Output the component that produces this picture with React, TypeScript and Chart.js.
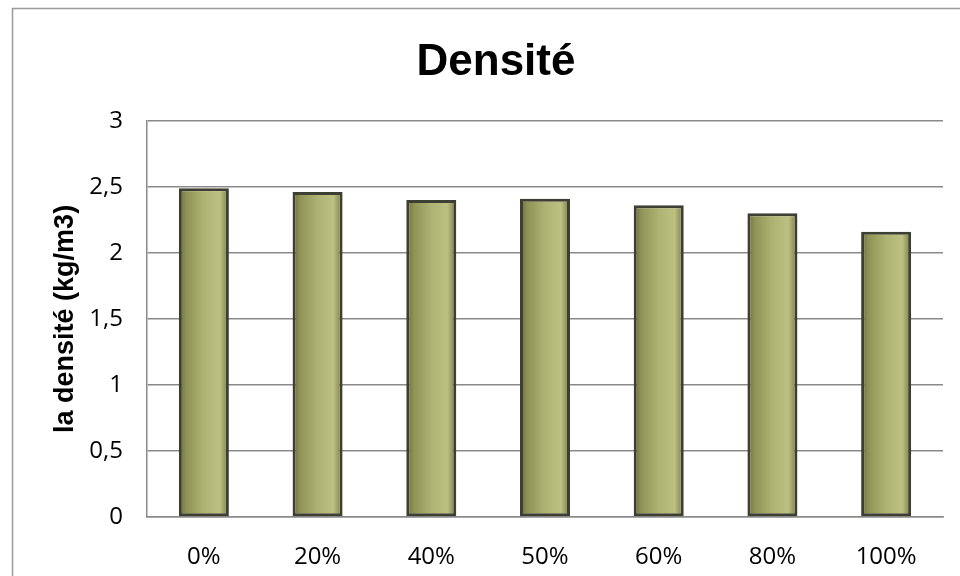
import React, { useEffect, useRef } from "react";
import { Chart, registerables } from "chart.js";

Chart.register(...registerables);

const categories = ["0%", "20%", "40%", "50%", "60%", "80%", "100%"];
const densityValues = [2.49, 2.46, 2.4, 2.41, 2.36, 2.3, 2.16];
const yTicks = [0, 0.5, 1, 1.5, 2, 2.5, 3];
const chartTitle = "Densité";
const yAxisTitle = "la densité (kg/m3)";

const W = 992;
const H = 576;
const BAR_PCT = 0.44;

const outerBorder = {
  id: "outerBorder",
  beforeDraw(chart: any) {
    const ctx = chart.ctx;
    ctx.save();
    ctx.fillStyle = "#ffffff";
    ctx.fillRect(0, 0, chart.width, chart.height);
    ctx.strokeStyle = "#9a9a9a";
    ctx.lineWidth = 1.5;
    ctx.strokeRect(12.5, 8.5, 967, 600);
    ctx.restore();
  },
};

export default function App() {
  const ref = useRef<HTMLCanvasElement | null>(null);

  useEffect(() => {
    if (!ref.current) return;
    const chart = new Chart(ref.current, {
      type: "bar",
      data: {
        labels: categories,
        datasets: [
          {
            label: "Densité",
            data: densityValues,
            backgroundColor: (c: any) => {
              const xs = c.chart.scales && c.chart.scales.x;
              if (!xs || !c.chart.chartArea || c.dataIndex === undefined) return "#a4a86a";
              const cx = xs.getPixelForValue(c.dataIndex);
              const half = ((xs.width / categories.length) * BAR_PCT) / 2;
              if (!isFinite(cx) || !isFinite(half)) return "#a4a86a";
              const g = c.chart.ctx.createLinearGradient(cx - half, 0, cx + half, 0);
              g.addColorStop(0, "#6a6d3c");
              g.addColorStop(0.15, "#8f9356");
              g.addColorStop(0.5, "#aeb272");
              g.addColorStop(0.82, "#bcc082");
              g.addColorStop(1, "#75784355".slice(0, 7));
              return g;
            },
            borderColor: "#3e3f33",
            borderWidth: 3,
            borderSkipped: false,
            barPercentage: BAR_PCT,
            categoryPercentage: 1,
          },
        ],
      },
      options: {
        animation: false,
        responsive: false,
        layout: { padding: { left: 49, right: W - 943, top: 0, bottom: 0 } },
        plugins: {
          legend: { display: false },
          tooltip: { enabled: false },
          title: {
            display: true,
            text: chartTitle,
            color: "#000",
            font: { family: "Liberation Sans", size: 44, weight: "bold", lineHeight: 1.2 },
            padding: { top: 36, bottom: 32 },
          },
        },
        scales: {
          x: {
            grid: { display: false },
            border: { display: true, color: "#8a8a8a", width: 1.5 },
            ticks: {
              color: "#000",
              font: { family: "Open Sans", size: 24 },
              padding: 18,
              maxRotation: 0,
            },
            afterFit: (s: any) => {
              s.height = H - 517;
            },
          },
          y: {
            min: 0,
            max: 3,
            afterBuildTicks: (s: any) => {
              s.ticks = yTicks.map((v) => ({ value: v }));
            },
            grid: { color: "#8a8a8a", lineWidth: 1.5, drawTicks: false },
            border: { display: true, color: "#8a8a8a", width: 1.5 },
            ticks: {
              color: "#000",
              font: { family: "Open Sans", size: 24 },
              padding: 24,
              callback: (v: any) => String(v).replace(".", ","),
            },
            title: {
              display: true,
              text: yAxisTitle,
              color: "#000",
              font: { family: "Liberation Sans", size: 27, weight: "bold", lineHeight: 1.2 },
              padding: { top: 0, bottom: 0 },
            },
            afterFit: (s: any) => {
              s.width = 147 - 49;
            },
          },
        },
      },
      plugins: [outerBorder],
    });
    return () => chart.destroy();
  }, []);

  return (
    <div
      style={{
        position: "fixed",
        left: 0,
        top: 0,
        width: 960,
        height: 576,
        overflow: "hidden",
        background: "#fff",
      }}
    >
      <canvas ref={ref} width={W} height={H} style={{ width: W, height: H, display: "block" }} />
    </div>
  );
}
